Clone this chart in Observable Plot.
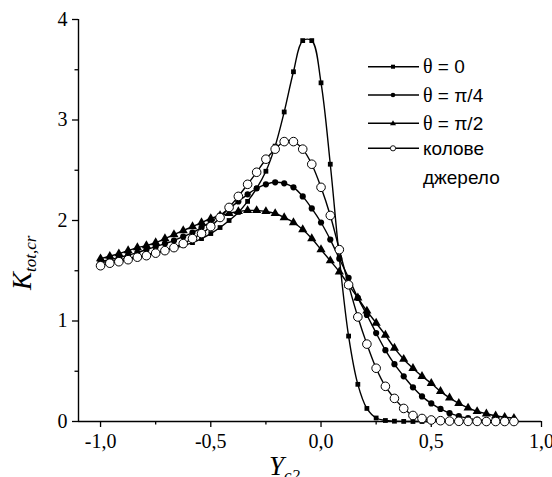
<!DOCTYPE html>
<html>
<head>
<meta charset="utf-8">
<script src="https://cdn.jsdelivr.net/npm/d3@7"></script>
<script src="https://cdn.jsdelivr.net/npm/@observablehq/plot@0.6"></script>
<style>
  html, body { margin: 0; padding: 0; background: #fff; }
  #wrap { position: relative; width: 552px; height: 477px; overflow: hidden; }
  #legend { position: absolute; left: 0; top: 0; width: 552px; height: 477px; pointer-events: none; }
  svg { overflow: visible; }
  #wrap svg text { font-family: "Liberation Serif", "Times New Roman", Times, "DejaVu Serif", serif; }
  #legend text.sans { font-family: "Liberation Sans", Arial, Helvetica, sans-serif; }
</style>
</head>
<body>
<div id="wrap"></div>
<script>
// ---- data ----
const xs = [-1.000,-0.958,-0.917,-0.875,-0.833,-0.792,-0.750,-0.708,-0.667,-0.625,-0.583,-0.542,
            -0.500,-0.458,-0.417,-0.375,-0.333,-0.292,-0.250,-0.208,-0.167,-0.125,-0.083,-0.042,
             0.000, 0.042, 0.083, 0.125, 0.167, 0.208, 0.250, 0.292, 0.333, 0.375, 0.417, 0.458,
             0.500, 0.542, 0.583, 0.625, 0.667, 0.708, 0.750, 0.792, 0.833, 0.875];

const theta0 = [1.58,1.595,1.61,1.625,1.64,1.66,1.68,1.70,1.725,1.75,1.78,1.82,
                1.87,1.93,2.00,2.08,2.19,2.32,2.49,2.74,3.08,3.48,3.79,3.79,
                3.37,2.56,1.63,0.85,0.37,0.13,0.035,0.01,0.003,0.001,0.0,0.0,0.0];

const thetaPi4 = [1.59,1.61,1.63,1.655,1.68,1.71,1.74,1.77,1.80,1.84,1.88,1.93,
                  1.99,2.05,2.12,2.19,2.26,2.32,2.36,2.38,2.37,2.33,2.24,2.12,
                  1.98,1.81,1.62,1.43,1.23,1.06,0.88,0.71,0.57,0.45,0.34,0.25,
                  0.18,0.125,0.083,0.053,0.033,0.018,0.01,0.006,0.004];

const thetaPi2 = [1.62,1.645,1.67,1.70,1.73,1.75,1.78,1.82,1.86,1.90,1.94,1.98,
                  2.02,2.05,2.07,2.09,2.10,2.10,2.09,2.07,2.03,1.98,1.91,1.82,
                  1.71,1.60,1.49,1.36,1.23,1.10,0.98,0.86,0.73,0.62,0.53,0.45,
                  0.38,0.30,0.235,0.18,0.135,0.10,0.077,0.057,0.043,0.033];

const ring = [1.55,1.575,1.59,1.61,1.635,1.65,1.675,1.70,1.73,1.77,1.82,1.87,
              1.94,2.03,2.13,2.24,2.36,2.48,2.61,2.71,2.785,2.785,2.71,2.56,
              2.33,2.05,1.71,1.36,1.04,0.77,0.53,0.35,0.23,0.13,0.06,0.03,
              0.015,0.008,0.004,0.002,0.001,0.001,0.0,0.0,0.0,0.0];

const seriesNames = ["θ = 0", "θ = π/4", "θ = π/2", "колове джерело"];
const seriesValues = [theta0, thetaPi4, thetaPi2, ring];

const xDomain = [-1.1, 1.0];
const yDomain = [0, 4];
const xMajor = [-1.0, -0.5, 0.0, 0.5, 1.0];
const xTickLabels = ["-1,0", "-0,5", "0,0", "0,5", "1,0"];
const xMinor = [-0.75, -0.25, 0.25, 0.75];
const yMajor = [0, 1, 2, 3, 4];
const yTickLabels = ["0", "1", "2", "3", "4"];
const yMinor = [0.5, 1.5, 2.5, 3.5];

// ---- build rows ----
const rows = seriesValues.map((vals, si) =>
  vals.map((v, i) => ({ x: xs[i], y: v, s: seriesNames[si] })));

const serif = "Liberation Serif, Times New Roman, Times, DejaVu Serif, serif";

const chart = Plot.plot({
  width: 552,
  height: 477,
  marginLeft: 78,
  marginRight: 11,
  marginTop: 19,
  marginBottom: 56,
  style: { fontFamily: serif, color: "black", background: "white", overflow: "visible" },
  x: { domain: xDomain },
  y: { domain: yDomain },
  marks: [
    Plot.axisX({ ticks: xMajor, tickSize: 6, tickPadding: 6, fontSize: 20,
                 tickFormat: d => xTickLabels[xMajor.indexOf(d)], label: null, strokeWidth: 1.3 }),
    Plot.axisX({ ticks: xMinor, tickSize: 3.5, text: null, label: null, strokeWidth: 1.3 }),
    Plot.axisY({ ticks: yMajor, tickSize: 6, tickPadding: 5, fontSize: 20,
                 tickFormat: d => yTickLabels[yMajor.indexOf(d)], label: null, strokeWidth: 1.3 }),
    Plot.axisY({ ticks: yMinor, tickSize: 3.5, text: null, label: null, strokeWidth: 1.3 }),
    Plot.ruleY([yDomain[0]], { stroke: "black", strokeWidth: 1.4 }),
    Plot.ruleX([xDomain[0]], { stroke: "black", strokeWidth: 1.4 }),
    ...rows.map(r => Plot.line(r, { x: "x", y: "y", curve: "catmull-rom", stroke: "black", strokeWidth: 1.4 })),
    Plot.dot(rows[0], { x: "x", y: "y", symbol: "square", r: 2.7, fill: "black" }),
    Plot.dot(rows[1], { x: "x", y: "y", symbol: "circle", r: 3.1, fill: "black" }),
    Plot.dot(rows[2], { x: "x", y: "y", symbol: "triangle", r: 3.4, fill: "black" }),
    Plot.dot(rows[3], { x: "x", y: "y", symbol: "circle", r: 4.3, fill: "white", stroke: "black", strokeWidth: 1 })
  ]
});

const wrap = document.getElementById("wrap");
wrap.appendChild(chart);

// axis titles (text)
const svg = d3.select(chart);
const yl = svg.append("text")
  .attr("transform", "translate(31,290) rotate(-90)")
  .attr("text-anchor", "start")
  .attr("font-style", "italic").attr("fill", "black");
yl.append("tspan").attr("font-size", 27).text("K");
yl.append("tspan").attr("font-size", 17).attr("dy", 5).text("tot,cr");

const xl = svg.append("text")
  .attr("x", 269).attr("y", 475)
  .attr("text-anchor", "start")
  .attr("font-style", "italic").attr("fill", "black");
xl.append("tspan").attr("font-size", 27).text("Y");
xl.append("tspan").attr("font-size", 17).attr("dy", 6).text("c2");

// legend overlay
const leg = d3.select(wrap).append("svg").attr("id", "legend")
  .attr("width", 552).attr("height", 477);
const legRows = [66.7, 95, 123.3, 148.3];
const legSym = ["square", "circle", "triangle", "ring"];
const legLabels = [["θ", " = 0"], ["θ", " = π/4"], ["θ", " = π/2"], ["", "колове"]];
legRows.forEach((yy, i) => {
  const g = leg.append("g");
  g.append("line").attr("x1", 368).attr("x2", 419).attr("y1", yy).attr("y2", yy)
    .attr("stroke", "black").attr("stroke-width", 1.4);
  const sym = legSym[i];
  if (sym === "square") g.append("rect").attr("x", 391).attr("y", yy - 2).attr("width", 4).attr("height", 4).attr("fill", "black");
  if (sym === "circle") g.append("circle").attr("cx", 393).attr("cy", yy).attr("r", 2.3).attr("fill", "black");
  if (sym === "triangle") g.append("path").attr("d", `M393,${yy-3} L396,${yy+2} L390,${yy+2} Z`).attr("fill", "black");
  if (sym === "ring") g.append("circle").attr("cx", 393).attr("cy", yy).attr("r", 2.6).attr("fill", "white").attr("stroke", "black").attr("stroke-width", 0.9);
  const t = g.append("text").attr("class", "sans").attr("x", 423).attr("y", yy + 6.5).attr("font-size", 19)
    .attr("text-anchor", "start").attr("fill", "black");
  if (legLabels[i][0]) t.append("tspan").attr("style", "font-family: 'Liberation Serif', 'DejaVu Serif', serif").attr("font-size", 20).text(legLabels[i][0]);
  t.append("tspan").text(legLabels[i][1]);
});
leg.append("text").attr("class", "sans").attr("x", 423).attr("y", 184).attr("font-size", 19)
  .attr("text-anchor", "start").attr("fill", "black").text("джерело");
</script>
</body>
</html>
